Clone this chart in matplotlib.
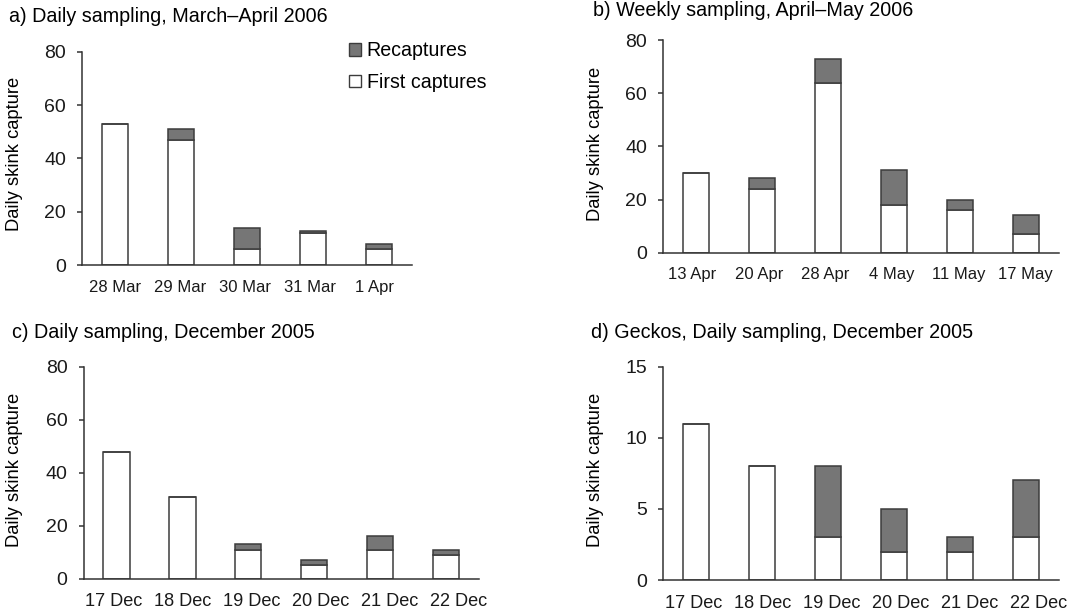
import matplotlib
matplotlib.use("Agg")
import matplotlib.pyplot as plt
from matplotlib.patches import Patch

plt.rcParams['font.family'] = ['Liberation Sans', 'DejaVu Sans']

# panel a) daily sampling, March-April 2006
days_a = ['28 Mar', '29 Mar', '30 Mar', '31 Mar', '1 Apr']
first_a = [53, 47, 6, 12, 6]
total_a = [53, 51, 14, 13, 8]

# panel b) weekly sampling, April-May 2006
days_b = ['13 Apr', '20 Apr', '28 Apr', '4 May', '11 May', '17 May']
first_b = [30, 24, 64, 18, 16, 7]
total_b = [30, 28, 73, 31, 20, 14]

# panel c) daily sampling, December 2005
days_c = ['17 Dec', '18 Dec', '19 Dec', '20 Dec', '21 Dec', '22 Dec']
first_c = [48, 31, 11, 5, 11, 9]
total_c = [48, 31, 13, 7, 16, 11]

# panel d) geckos, December 2005
days_d = ['17 Dec', '18 Dec', '19 Dec', '20 Dec', '21 Dec', '22 Dec']
first_d = [11, 8, 3, 2, 2, 3]
total_d = [11, 8, 8, 5, 3, 7]

titles = ['a) Daily sampling, March\u2013April 2006',
          'b) Weekly sampling, April\u2013May 2006',
          'c) Daily sampling, December 2005',
          'd) Geckos, Daily sampling, December 2005']

GREY = '#767676'
EDGE = '#3c3c3c'
AXC = '#333333'


def draw(ax, days, first, total, ymax, step, lab_off=0.0, lab_step=1.0, lab_size=12):
    x = list(range(len(days)))
    recap = [t - f for t, f in zip(total, first)]
    ax.bar(x, first, width=0.40, color='white', edgecolor=EDGE, linewidth=1.1)
    ax.bar(x, recap, bottom=first, width=0.40, color=GREY, edgecolor=EDGE, linewidth=1.1)
    ax.set_xlim(-0.5, len(days) - 0.5)
    ax.set_ylim(0, ymax)
    ax.set_yticks(range(0, ymax + 1, step))
    # category labels sit a little off the bar centres in the original
    ax.set_xticks([lab_off + i * lab_step for i in x])
    ax.set_xticklabels(days)
    for s in ['top', 'right']:
        ax.spines[s].set_visible(False)
    for s in ['left', 'bottom']:
        ax.spines[s].set_color(AXC)
        ax.spines[s].set_linewidth(1.1)
    ax.tick_params(axis='x', length=0, pad=10.5, labelsize=lab_size, labelcolor='#1a1a1a')
    ax.tick_params(axis='y', length=3.6, width=1.1, pad=8, labelsize=14,
                   color=AXC, labelcolor='#1a1a1a')


fig = plt.figure(figsize=(10.8, 6.11), dpi=100)
ax_a = fig.add_axes([0.0762, 0.5658, 0.3050, 0.3496])
ax_b = fig.add_axes([0.6142, 0.5864, 0.3661, 0.3481])
ax_c = fig.add_axes([0.0775, 0.0529, 0.3657, 0.3465])
ax_d = fig.add_axes([0.6142, 0.0507, 0.3661, 0.3491])

draw(ax_a, days_a, first_a, total_a, 80, 20, 0.0, 0.985, 12)
draw(ax_b, days_b, first_b, total_b, 80, 20, -0.06, 1.01, 12)
draw(ax_c, days_c, first_c, total_c, 80, 20, -0.04, 1.047, 13.1)
draw(ax_d, days_d, first_d, total_d, 15, 5, -0.04, 1.047, 13.1)

# titles
fig.text(9 / 1080, 1 - 17 / 611, titles[0], fontsize=14.2, va='center', ha='left')
fig.text(593 / 1080, 1 - 11 / 611, titles[1], fontsize=14.2, va='center', ha='left')
fig.text(12.5 / 1080, 1 - 332 / 611, titles[2], fontsize=14.2, va='center', ha='left')
fig.text(591 / 1080, 1 - 332 / 611, titles[3], fontsize=14.2, va='center', ha='left')

# y labels
for (px, py) in [(14.6, 154), (595.6, 144), (14.6, 470), (595.6, 470)]:
    fig.text(px / 1080, 1 - py / 611, 'Daily skink capture', rotation=90,
             fontsize=13.2, va='center', ha='center')

handles = [Patch(facecolor=GREY, edgecolor=EDGE, label='Recaptures'),
           Patch(facecolor='white', edgecolor=EDGE, label='First captures')]
ax_a.legend(handles=handles, loc='upper left', bbox_to_anchor=(0.81, 1.049),
            frameon=False, fontsize=14.1, handlelength=0.6, handleheight=0.6,
            handletextpad=0.3, labelspacing=0.66, borderaxespad=0, borderpad=0)

fig.savefig('out.png', dpi=100)
